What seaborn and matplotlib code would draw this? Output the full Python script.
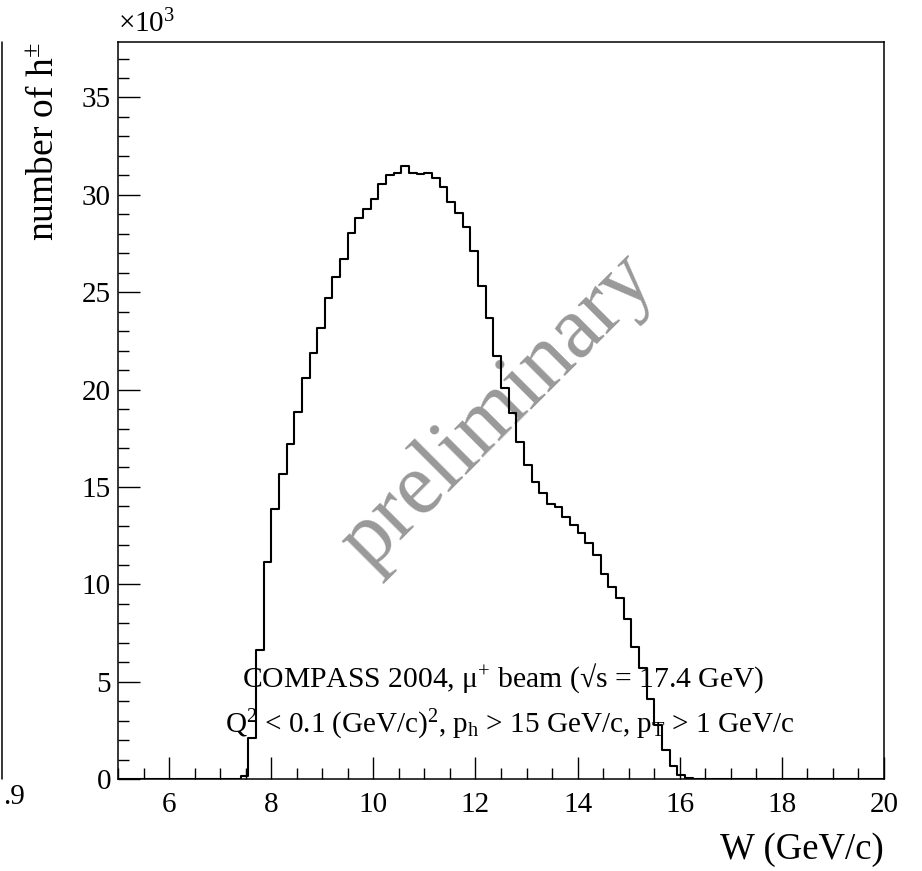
import numpy as np
import pandas as pd
import matplotlib
matplotlib.use("Agg")
import matplotlib.pyplot as plt
from matplotlib.lines import Line2D
from matplotlib.ticker import MultipleLocator
import seaborn as sns

# W histogram, 100 bins of 0.15 GeV between 5 and 20, counts in units of 10^3
w_min, w_max, n_bins = 5.0, 20.0, 100
first_bin = 15  # bins before this one are empty
counts_k = [
    0.02, 0.15, 2.1, 6.61, 11.14, 13.87, 15.67, 17.2, 18.83, 20.57,
    21.89, 23.18, 24.72, 25.78, 26.69, 28.05, 28.82, 29.25, 29.8, 30.56,
    31.04, 31.1, 31.47, 31.13, 31.08, 31.1, 30.84, 30.39, 29.64, 29.08,
    28.34, 27.14, 25.32, 23.66, 21.73, 20.08, 18.8, 17.3, 16.13, 15.27,
    14.69, 14.1, 13.99, 13.48, 13.02, 12.64, 12.13, 11.48, 10.54, 9.86,
    9.29, 8.2, 6.8, 5.7, 4.13, 2.77, 1.49, 0.67, 0.2, 0.06,
]
x_ticks = [6, 8, 10, 12, 14, 16, 18, 20]
y_ticks = [0, 5, 10, 15, 20, 25, 30, 35]
y_max = 37.85

edges = np.linspace(w_min, w_max, n_bins + 1)
centers = 0.5 * (edges[:-1] + edges[1:])
df = pd.DataFrame({'W': centers[first_bin:first_bin + len(counts_k)], 'n': counts_k})

sns.set_style("ticks", rc={'axes.edgecolor': 'black', 'xtick.color': 'black',
                           'ytick.color': 'black', 'text.color': 'black',
                           'axes.labelcolor': 'black'})
plt.rcParams['font.family'] = ['Liberation Serif', 'DejaVu Serif']
plt.rcParams['mathtext.fontset'] = 'custom'
plt.rcParams['mathtext.rm'] = 'Liberation Serif'
plt.rcParams['mathtext.it'] = 'Liberation Serif:italic'

fig = plt.figure(figsize=(9.22, 8.71), dpi=100)
ax = fig.add_axes([118 / 922, 1 - 779 / 871, 766 / 922, 737 / 871])

sns.histplot(data=df, x='W', weights='n', bins=edges.tolist(), element="step", fill=False,
             color="black", linewidth=1.5, ax=ax, zorder=3)

ax.set_xlim(w_min, w_max)
ax.set_ylim(0, y_max)
ax.set_xticks(x_ticks)
ax.set_yticks(y_ticks)
ax.xaxis.set_minor_locator(MultipleLocator(0.5))
ax.yaxis.set_minor_locator(MultipleLocator(1))
ax.tick_params(which='both', direction='in', top=False, right=False, width=1,
               labelsize=21, colors='black')
ax.tick_params(which='major', length=16)
ax.tick_params(which='minor', length=8)
ax.tick_params(axis='x', pad=9)
ax.tick_params(axis='y', pad=5)
for s in ax.spines.values():
    s.set_linewidth(1.1)
    s.set_color('black')
    s.set_visible(True)

ax.set_xlabel("W (GeV/c)", fontsize=26.5, loc='right')
ax.xaxis.set_label_coords(1.0, -0.072)
ax.set_ylabel(r"number of h$\mathregular{^{\pm}}$", fontsize=27, loc='top')
ax.yaxis.set_label_coords(-0.075, 1.0)

ax.text(0.0, 1.005, r"$\mathregular{\times10^{3}}$", transform=ax.transAxes,
        fontsize=21, ha='left', va='bottom')

ax.text(12.44, 18.9, "preliminary", fontsize=63, color="#999999", rotation=45,
        rotation_mode='anchor', ha='center', va='center', zorder=1)

ax.text(12.55, 4.72, r"COMPASS 2004, $\mathregular{\mu^{+}}$ beam (√s = 17.4 GeV)",
        fontsize=21.3, ha='center', va='baseline', zorder=2)
ax.text(12.68, 2.36,
        r"$\mathregular{Q^{2}}$ < 0.1 (GeV/c)$\mathregular{^{2}}$, $\mathregular{p_{h}}$ > 15 GeV/c, "
        r"$\mathregular{p_{T}}$ > 1 GeV/c",
        fontsize=21, ha='center', va='baseline', zorder=2)

# edge of the neighbouring panel cut off at the left
fig.add_artist(Line2D([1.5 / 922, 1.5 / 922], [1 - 779 / 871, 1 - 42 / 871],
                      color='black', linewidth=1.1))
fig.text(3 / 922, 1 - 810 / 871, ".9", fontsize=21, ha='left', va='bottom')

fig.savefig("out.png", dpi=100)
